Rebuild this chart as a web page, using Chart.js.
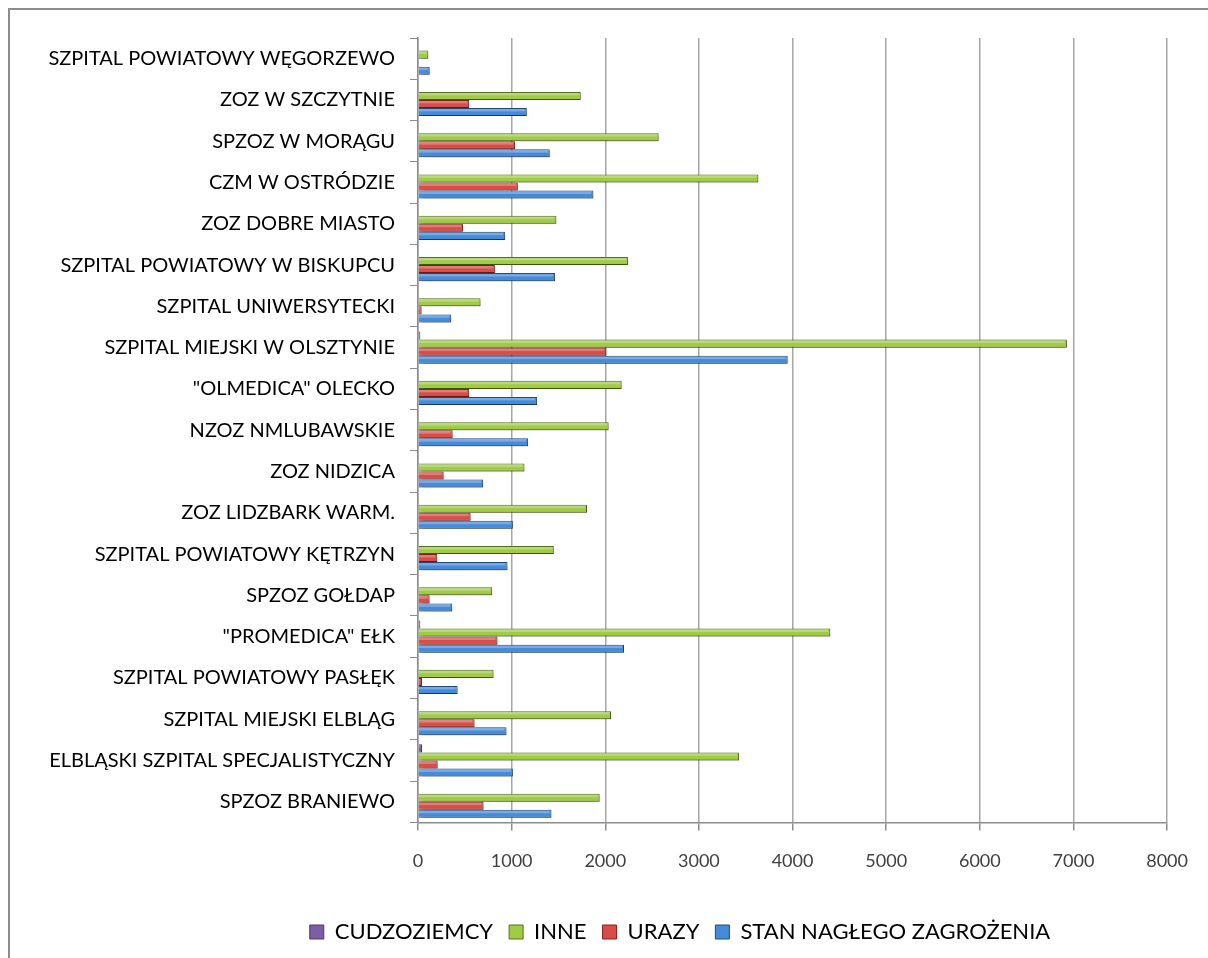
<!DOCTYPE html>
<html>
<head>
<meta charset="utf-8">
<script src="https://cdn.jsdelivr.net/npm/chart.js@4"></script>
<style>
    body { margin: 0; background: #fff; }
    #frame { position: absolute; left: 8px; top: 8px; width: 1198px; height: 948px; border: 2px solid #8c8c8c; }
    #wrap { position: absolute; left: 0; top: 0; width: 1208px; height: 958px; }
</style>
</head>
<body>
<div id="frame"></div>
<div id="wrap"><canvas id="myChart"></canvas></div>
<script>
// categories listed top to bottom as they appear on the chart
const hospitals = [
    'SZPITAL POWIATOWY WĘGORZEWO', 'ZOZ W SZCZYTNIE', 'SPZOZ W MORĄGU', 'CZM W OSTRÓDZIE',
    'ZOZ DOBRE MIASTO', 'SZPITAL POWIATOWY W BISKUPCU', 'SZPITAL UNIWERSYTECKI',
    'SZPITAL MIEJSKI W OLSZTYNIE', '"OLMEDICA" OLECKO', 'NZOZ NMLUBAWSKIE', 'ZOZ NIDZICA',
    'ZOZ LIDZBARK WARM.', 'SZPITAL POWIATOWY KĘTRZYN', 'SPZOZ GOŁDAP', '"PROMEDICA" EŁK',
    'SZPITAL POWIATOWY PASŁĘK', 'SZPITAL MIEJSKI ELBLĄG', 'ELBLĄSKI SZPITAL SPECJALISTYCZNY',
    'SPZOZ BRANIEWO'
];

const cudzoziemcy = [0, 0, 0, 0, 0, 0, 0, 25, 5, 0, 0, 0, 0, 0, 25, 0, 0, 43, 0];
const inne = [110, 1738, 2570, 3635, 1478, 2242, 668, 6930, 2175, 2036, 1137, 1805, 1450, 792, 4403, 807, 2061, 3429, 1940];
const urazy = [0, 547, 1037, 1066, 480, 821, 39, 2011, 547, 370, 274, 562, 206, 124, 849, 43, 604, 210, 700];
const stan = [125, 1162, 1407, 1873, 931, 1464, 355, 3948, 1272, 1176, 696, 1013, 956, 366, 2200, 423, 945, 1013, 1425];

const xMax = 8000;
const xStep = 1000;

// soft drop shadow under bars, like the office 3d style
const barShadow = {
    id: 'barShadow',
    beforeDatasetsDraw(chart) {
        const c = chart.ctx;
        c.save();
        c.shadowColor = 'rgba(0,0,0,0.35)';
        c.shadowBlur = 5;
        c.shadowOffsetX = 2;
        c.shadowOffsetY = 3;
    },
    afterDatasetsDraw(chart) {
        const c = chart.ctx;
        c.restore();
        // light highlight on top edge of each bar
        chart.data.datasets.forEach((ds, i) => {
            const meta = chart.getDatasetMeta(i);
            meta.data.forEach(bar => {
                if (bar.x - bar.base < 2) return;
                const h = bar.height;
                c.fillStyle = 'rgba(255,255,255,0.28)';
                c.fillRect(bar.base, bar.y - h / 2 + 1, bar.x - bar.base - 2, h * 0.3);
            });
        });
    }
};

// legend in the original sits a bit right of the page centre
const legendShift = {
    id: 'legendShift',
    afterLayout(chart) {
        chart.legend.left = 192;
    }
};

const ctx = document.getElementById('myChart');

new Chart(ctx, {
    type: 'bar',
    data: {
        labels: hospitals,
        datasets: [{
            label: 'CUDZOZIEMCY',
            data: cudzoziemcy,
            backgroundColor: '#7d5ea6',
            borderColor: '#4e3670',
            borderWidth: 1
        }, {
            label: 'INNE',
            data: inne,
            backgroundColor: '#9fcb45',
            borderColor: '#55701f',
            borderWidth: 1
        }, {
            label: 'URAZY',
            data: urazy,
            backgroundColor: '#d94c47',
            borderColor: '#82221f',
            borderWidth: 1
        }, {
            label: 'STAN NAGŁEGO ZAGROŻENIA',
            data: stan,
            backgroundColor: '#448bdb',
            borderColor: '#244b7a',
            borderWidth: 1
        }]
    },
    options: {
        indexAxis: 'y',
        responsive: true,
        maintainAspectRatio: false,
        animation: false,
        datasets: {
            bar: {
                categoryPercentage: 0.78,
                barPercentage: 1
            }
        },
        layout: {
            padding: { left: 0, right: 40, top: 38, bottom: 5 }
        },
        plugins: {
            tooltip: { enabled: false },
            legend: {
                position: 'bottom',
                labels: {
                    boxWidth: 14,
                    boxHeight: 14,
                    padding: 16,
                    color: '#000',
                    font: { family: 'Lato', size: 22 }
                }
            }
        },
        scales: {
            x: {
                min: 0,
                max: xMax,
                afterFit(scale) { scale.height += 13; },
                ticks: {
                    stepSize: xStep,
                    padding: 20,
                    color: '#404040',
                    font: { family: 'Lato', size: 18 },
                    callback: v => String(v)
                },
                grid: {
                    color: '#a6a6a6',
                    lineWidth: 1.5,
                    tickLength: 8,
                    tickColor: '#8c8c8c'
                },
                border: { color: '#8c8c8c', width: 1.5 }
            },
            y: {
                afterFit(scale) { scale.width = 418; },
                ticks: {
                    padding: 15,
                    color: '#000',
                    font: { family: 'Lato', size: 20 }
                },
                grid: {
                    drawOnChartArea: false,
                    tickLength: 8,
                    tickColor: '#8c8c8c'
                },
                border: { color: '#8c8c8c', width: 1.5 }
            }
        }
    },
    plugins: [barShadow, legendShift]
});
</script>
</body>
</html>
